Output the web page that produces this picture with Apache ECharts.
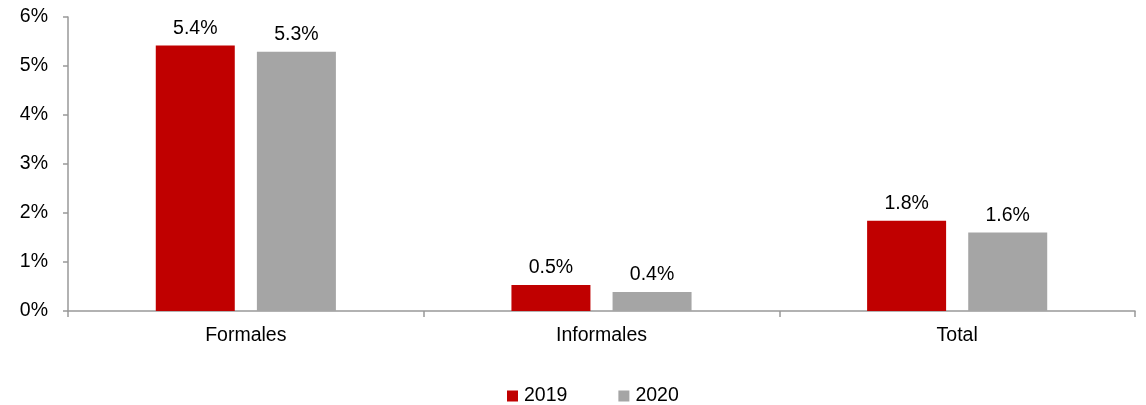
<!DOCTYPE html>
<html>
<head>
<meta charset="utf-8">
<script src="https://cdn.jsdelivr.net/npm/echarts@6/dist/echarts.min.js"></script>
<style>html,body{margin:0;padding:0;background:#fff;}#c{width:1146px;height:405px;}</style>
</head>
<body>
<div id="c"></div>
<script>
const categories = ['Formales', 'Informales', 'Total'];
const seriesNames = ['2019', '2020'];
const values2019 = [5.42, 0.53, 1.84];
const values2020 = [5.29, 0.39, 1.6];
const yTicks = [0, 1, 2, 3, 4, 5, 6];

const font = 'Liberation Sans, Arial, sans-serif';
const fs = 19.5;
const chart = echarts.init(document.getElementById('c'), null, {renderer: 'canvas'});
const labelCfg = {
  show: true, position: 'top', distance: 7,
  color: '#000', fontFamily: font, fontSize: fs,
  formatter: p => p.value.toFixed(1) + '%'
};
chart.setOption({
  animation: false,
  grid: {left: 68, right: 11, top: 17, bottom: 94, containLabel: false},
  legend: {
    top: 386, left: 507, padding: 0,
    itemWidth: 11, itemHeight: 11, itemGap: 51,
    icon: 'rect',
    textStyle: {fontFamily: font, fontSize: fs, color: '#000', padding: [0, 0, 0, 1]},
    data: seriesNames
  },
  xAxis: {
    type: 'category', data: categories,
    axisLine: {lineStyle: {color: '#999', width: 1.5}},
    axisTick: {show: true, length: 6, lineStyle: {color: '#999', width: 1.5}},
    axisLabel: {fontFamily: font, fontSize: fs, color: '#000', margin: 15}
  },
  yAxis: {
    type: 'value', min: yTicks[0], max: yTicks[yTicks.length - 1], interval: 1,
    axisLine: {show: true, lineStyle: {color: '#999', width: 1.5}},
    axisTick: {show: true, length: 5, lineStyle: {color: '#999', width: 1.5}},
    splitLine: {show: false},
    axisLabel: {fontFamily: font, fontSize: fs, color: '#000', margin: 20, formatter: v => v + '%'}
  },
  series: [
    {name: seriesNames[0], type: 'bar', data: values2019, barWidth: 79, barGap: '28%',
     itemStyle: {color: '#c00000'}, label: labelCfg},
    {name: seriesNames[1], type: 'bar', data: values2020, barWidth: 79,
     itemStyle: {color: '#a5a5a5'}, label: labelCfg}
  ]
});
</script>
</body>
</html>
